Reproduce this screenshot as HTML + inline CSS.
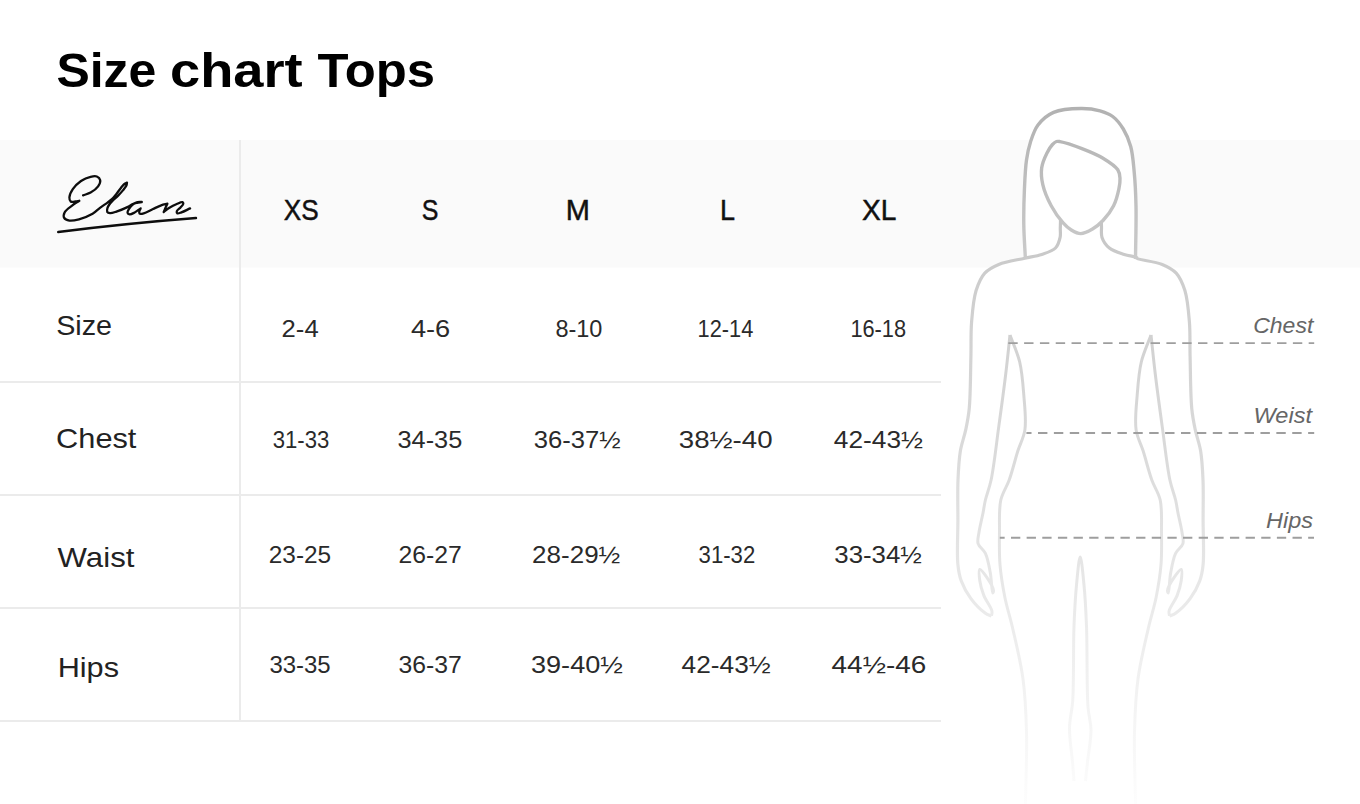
<!DOCTYPE html>
<html><head><meta charset="utf-8">
<style>
html,body{margin:0;padding:0;background:#fff;}
body{width:1360px;height:804px;overflow:hidden;position:relative;}
svg{position:absolute;left:0;top:0;}
text{font-family:"Liberation Sans",sans-serif;}
</style></head><body>
<svg width="1360" height="804" viewBox="0 0 1360 804">
<defs>
<linearGradient id="g" gradientUnits="userSpaceOnUse" x1="0" y1="100" x2="0" y2="804">
<stop offset="0" stop-color="#b0b0b0"/>
<stop offset="0.25" stop-color="#cdcdcd"/>
<stop offset="0.5" stop-color="#dadada"/>
<stop offset="0.75" stop-color="#ececec"/>
<stop offset="0.87" stop-color="#f4f4f4"/>
<stop offset="1" stop-color="#fdfdfd"/>
</linearGradient>
</defs>
<rect x="0" y="0" width="1360" height="804" fill="#fff"/>
<rect x="0" y="140" width="1360" height="127.5" fill="#fafafa"/>
<!-- grid -->
<rect x="239" y="140" width="2" height="582" fill="#ebebeb"/>
<rect x="0" y="381" width="941" height="2" fill="#ebebeb"/>
<rect x="0" y="494" width="941" height="2" fill="#ebebeb"/>
<rect x="0" y="607" width="941" height="2" fill="#ebebeb"/>
<rect x="0" y="720" width="941" height="2" fill="#ebebeb"/>
<!-- logo -->
<g fill="none" stroke="#0d0d0d" stroke-width="2.3" stroke-linecap="round" stroke-linejoin="round">
<path d="M83.10,195.30 C85.60,194.40 88.21,193.96 90.60,192.60 C93.24,191.10 96.50,188.70 98.10,186.40 C99.40,184.52 100.55,182.01 100.20,180.30 C99.89,178.78 98.29,177.12 96.80,176.50 C95.16,175.81 92.84,176.27 90.60,176.80 C87.69,177.48 83.91,179.02 81.00,181.00 C77.94,183.09 74.77,186.26 72.80,189.20 C71.08,191.77 69.50,195.12 69.40,197.40 C69.33,198.99 69.74,200.80 70.70,201.50 C71.71,202.24 74.00,201.64 75.50,201.50 C76.85,201.38 78.03,201.03 79.30,200.80 M79.30,200.80 C76.90,202.40 74.46,203.76 72.10,205.60 C69.55,207.59 65.77,210.01 64.60,212.40 C63.74,214.17 63.44,216.54 64.20,217.90 C64.98,219.30 67.34,220.24 69.40,220.60 C72.05,221.06 75.58,220.21 79.00,219.30 C83.20,218.18 88.88,215.99 92.60,213.80 C95.60,212.03 97.49,209.68 100.00,207.80 C102.46,205.96 105.35,204.18 107.50,202.60 C109.18,201.37 110.49,200.54 111.90,199.20 C113.47,197.70 114.93,195.74 116.40,193.90 C117.93,191.98 119.46,189.66 120.90,187.90 C122.11,186.43 123.24,184.91 124.40,184.00 C125.27,183.31 126.13,183.07 127.00,182.60 M127.00,182.60 C126.80,183.57 126.85,184.46 126.40,185.50 C125.75,186.98 124.22,188.76 122.90,190.40 C121.43,192.22 119.61,194.20 117.90,195.90 C116.27,197.52 114.42,198.84 112.90,200.40 C111.46,201.88 109.95,203.61 109.00,205.00 C108.31,206.01 107.81,206.75 107.50,207.80 C107.16,208.98 106.68,210.91 107.20,211.80 C107.66,212.58 108.85,212.98 110.00,213.10 C111.68,213.27 114.01,212.36 116.40,211.60 C119.61,210.57 124.42,208.56 127.40,207.10 C129.56,206.04 131.04,204.84 132.80,204.00 C134.37,203.25 135.86,202.53 137.40,202.20 C138.86,201.89 140.33,202.07 141.80,202.00 M141.80,202.00 C140.20,202.27 138.50,202.39 137.00,202.80 C135.61,203.18 134.32,203.45 133.10,204.30 C131.61,205.34 129.95,207.45 129.00,209.00 C128.24,210.24 127.24,211.79 127.50,212.70 C127.72,213.45 128.79,214.17 129.70,214.30 C130.92,214.48 132.70,213.51 134.30,212.70 C136.30,211.69 138.50,209.83 140.60,208.40 M140.60,208.40 C140.17,209.33 139.45,210.27 139.30,211.20 C139.17,212.04 139.07,213.27 139.60,213.70 C140.27,214.25 142.10,213.82 143.70,213.40 C146.23,212.74 149.99,210.39 153.00,209.00 C155.81,207.70 158.62,206.21 161.20,205.30 C163.38,204.53 165.33,204.23 167.40,203.70 M167.40,203.70 C166.70,205.17 165.93,206.67 165.30,208.10 C164.71,209.43 164.23,210.70 163.70,212.00 M163.70,212.00 C165.47,210.70 167.01,209.34 169.00,208.10 C171.30,206.66 174.37,205.02 176.80,204.00 C178.78,203.17 181.39,201.82 182.40,202.20 C182.95,202.41 183.33,203.10 183.30,203.70 C183.25,204.67 181.54,206.19 180.50,207.40 C179.39,208.69 177.10,210.02 176.80,211.20 C176.60,211.97 176.86,213.09 177.40,213.40 C178.12,213.82 179.84,212.95 181.40,212.40 C183.78,211.57 187.20,209.73 190.10,208.40"/>
<path d="M58.2,232 Q125,223.5 196,218" stroke-width="2.4"/>
</g>
<text transform="translate(56.38,87.1) scale(1.0198,1)" font-size="49" font-weight="bold" fill="#000">Size</text>
<text transform="translate(169.98,87.1) scale(1.1076,1)" font-size="49" font-weight="bold" fill="#000">chart</text>
<text transform="translate(317.4,87.1) scale(1.0366,1)" font-size="49" font-weight="bold" fill="#000">Tops</text>
<text transform="translate(283.8,219.7) scale(0.9026,1)" font-size="29" stroke="#111" stroke-width="0.45" fill="#111">XS</text>
<text transform="translate(421.64,219.7) scale(0.8611,1)" font-size="29" stroke="#111" stroke-width="0.45" fill="#111">S</text>
<text transform="translate(565.8,219.7) scale(1.0,1)" font-size="29" stroke="#111" stroke-width="0.45" fill="#111">M</text>
<text transform="translate(719.97,219.7) scale(0.9333,1)" font-size="29" stroke="#111" stroke-width="0.45" fill="#111">L</text>
<text transform="translate(862.0,219.7) scale(0.9714,1)" font-size="29" stroke="#111" stroke-width="0.45" fill="#111">XL</text>
<text transform="translate(56.19,335.3) scale(1.0074,1)" font-size="28.5" fill="#222">Size</text>
<text transform="translate(56.12,447.9) scale(1.0784,1)" font-size="28.5" fill="#222">Chest</text>
<text transform="translate(57.6,566.5) scale(1.0944,1)" font-size="28.5" fill="#222">Waist</text>
<text transform="translate(57.67,676.9) scale(1.0759,1)" font-size="28.5" fill="#222">Hips</text>
<text transform="translate(1253.2,333.3) scale(1.0458,1)" font-size="22" font-style="italic" fill="#666">Chest</text>
<text transform="translate(1253.53,423.3) scale(1.0709,1)" font-size="22" font-style="italic" fill="#666">Weist</text>
<text transform="translate(1266.0,527.8) scale(1.0682,1)" font-size="22" font-style="italic" fill="#666">Hips</text>
<text transform="translate(281.6,337.0) scale(1.0686,1)" font-size="24" fill="#2a2a2a">2-4</text>
<text transform="translate(410.9,337.0) scale(1.1353,1)" font-size="24" fill="#2a2a2a">4-6</text>
<text transform="translate(555.4,337.0) scale(0.9792,1)" font-size="24" fill="#2a2a2a">8-10</text>
<text transform="translate(697.59,337.0) scale(0.9083,1)" font-size="24" fill="#2a2a2a">12-14</text>
<text transform="translate(850.39,337.0) scale(0.9083,1)" font-size="24" fill="#2a2a2a">16-18</text>
<text transform="translate(272.7,447.5) scale(0.923,1)" font-size="24" fill="#2a2a2a">31-33</text>
<text transform="translate(397.5,447.5) scale(1.0557,1)" font-size="24" fill="#2a2a2a">34-35</text>
<text transform="translate(533.8,447.5) scale(1.0683,1)" font-size="24" fill="#2a2a2a">36-37½</text>
<text transform="translate(678.8,447.5) scale(1.1519,1)" font-size="24" fill="#2a2a2a">38½-40</text>
<text transform="translate(833.8,447.5) scale(1.0951,1)" font-size="24" fill="#2a2a2a">42-43½</text>
<text transform="translate(268.8,563.0) scale(1.0164,1)" font-size="24" fill="#2a2a2a">23-25</text>
<text transform="translate(398.6,563.0) scale(1.0311,1)" font-size="24" fill="#2a2a2a">26-27</text>
<text transform="translate(532.1,563.0) scale(1.0841,1)" font-size="24" fill="#2a2a2a">28-29½</text>
<text transform="translate(698.6,563.0) scale(0.923,1)" font-size="24" fill="#2a2a2a">31-32</text>
<text transform="translate(834.3,563.0) scale(1.0756,1)" font-size="24" fill="#2a2a2a">33-34½</text>
<text transform="translate(269.4,673.3) scale(0.9984,1)" font-size="24" fill="#2a2a2a">33-35</text>
<text transform="translate(398.6,673.3) scale(1.0311,1)" font-size="24" fill="#2a2a2a">36-37</text>
<text transform="translate(531.0,673.3) scale(1.1293,1)" font-size="24" fill="#2a2a2a">39-40½</text>
<text transform="translate(681.6,673.3) scale(1.0951,1)" font-size="24" fill="#2a2a2a">42-43½</text>
<text transform="translate(831.6,673.3) scale(1.163,1)" font-size="24" fill="#2a2a2a">44½-46</text>
<!-- figure -->
<path d="M1060.60,218.00 C1060.50,221.33 1060.38,224.72 1060.30,228.00 C1060.22,231.18 1060.79,234.24 1060.10,237.40 C1059.33,240.90 1058.19,245.25 1055.50,248.00 C1052.42,251.16 1046.63,252.72 1041.70,254.40 C1036.44,256.19 1031.03,256.76 1024.80,258.20 C1017.06,259.99 1005.94,261.42 998.80,264.40 C993.19,266.74 988.51,269.02 984.80,273.10 C980.76,277.54 973.36,286.59 976.10,290.60 C984.87,303.47 1174.01,282.27 1176.20,273.10 C1176.83,270.47 1167.81,266.74 1162.20,264.40 C1155.06,261.42 1136.58,259.55 1136.20,258.20 C1136.13,257.94 1136.97,257.74 1136.90,257.50 C1136.65,256.61 1128.53,255.85 1124.20,254.40 C1119.39,252.79 1113.18,251.09 1109.40,248.00 C1106.01,245.23 1103.26,241.11 1102.00,237.40 C1100.87,234.07 1101.63,230.43 1101.50,227.00 C1101.37,223.63 1101.30,220.33 1101.20,217.00" fill="#fff" stroke="none"/>
<path d="M1025.40,259.00 C1024.87,247.67 1023.97,236.42 1023.80,225.00 C1023.63,213.42 1023.91,201.21 1024.40,190.00 C1024.85,179.61 1025.24,168.69 1026.50,160.00 C1027.49,153.20 1028.59,147.82 1030.50,142.00 C1032.42,136.15 1034.27,129.87 1038.00,125.00 C1041.87,119.94 1047.22,115.18 1053.60,112.40 C1061.10,109.14 1072.70,108.59 1081.00,108.50 C1087.91,108.43 1094.41,109.24 1100.00,110.80 C1104.77,112.13 1108.94,113.67 1112.70,116.50 C1116.78,119.57 1120.36,124.23 1123.30,129.00 C1126.46,134.13 1128.91,139.99 1130.70,146.50 C1132.78,154.08 1133.33,162.87 1134.20,172.00 C1135.20,182.50 1135.73,193.41 1136.00,206.00 C1136.34,221.71 1135.67,241.33 1135.50,259.00" fill="#fff" stroke="url(#g)" stroke-width="3.4"/>
<path d="M1060.60,218.00 C1060.50,221.33 1060.38,224.72 1060.30,228.00 C1060.22,231.18 1060.79,234.24 1060.10,237.40 C1059.33,240.90 1058.19,245.25 1055.50,248.00 C1052.42,251.16 1046.63,252.72 1041.70,254.40 C1036.44,256.19 1031.03,256.76 1024.80,258.20 C1017.06,259.99 1005.94,261.42 998.80,264.40 C993.19,266.74 988.51,269.02 984.80,273.10 C980.76,277.54 978.24,283.72 976.10,290.60 C973.37,299.35 972.48,311.16 971.60,321.90 C970.68,333.17 971.24,343.92 970.90,356.70 C970.49,372.37 970.54,395.53 969.20,409.00 C968.35,417.57 967.16,422.96 965.70,429.90 C964.23,436.90 961.67,443.19 960.40,450.80 C958.92,459.67 958.44,469.49 958.00,480.00 C957.48,492.28 957.92,506.30 957.90,520.00 C957.88,534.49 956.77,553.57 957.90,564.70 C958.58,571.45 959.24,575.44 961.20,580.80 C963.37,586.75 966.89,593.22 970.90,598.60 C974.94,604.02 981.38,610.39 985.40,613.20 C987.70,614.80 989.47,615.07 991.50,616.00" fill="none" stroke="url(#g)" stroke-width="3.2"/>
<path d="M1101.20,217.00 C1101.30,220.33 1101.37,223.63 1101.50,227.00 C1101.63,230.43 1100.87,234.07 1102.00,237.40 C1103.26,241.11 1106.01,245.23 1109.40,248.00 C1113.18,251.09 1119.39,252.79 1124.20,254.40 C1128.53,255.85 1136.65,256.61 1136.90,257.50 C1136.97,257.74 1136.13,257.94 1136.20,258.20 C1136.58,259.55 1155.06,261.42 1162.20,264.40 C1167.81,266.74 1172.49,269.02 1176.20,273.10 C1180.24,277.54 1182.76,283.72 1184.90,290.60 C1187.63,299.35 1188.52,311.16 1189.40,321.90 C1190.32,333.17 1189.76,343.92 1190.10,356.70 C1190.51,372.37 1190.46,395.53 1191.80,409.00 C1192.65,417.57 1193.84,422.96 1195.30,429.90 C1196.77,436.90 1199.33,443.19 1200.60,450.80 C1202.08,459.67 1202.56,469.49 1203.00,480.00 C1203.52,492.28 1203.08,506.30 1203.10,520.00 C1203.12,534.49 1204.23,553.57 1203.10,564.70 C1202.42,571.45 1201.76,575.44 1199.80,580.80 C1197.63,586.75 1194.11,593.22 1190.10,598.60 C1186.06,604.02 1179.62,610.39 1175.60,613.20 C1173.30,614.80 1171.53,615.07 1169.50,616.00" fill="none" stroke="url(#g)" stroke-width="3.2"/>
<path d="M1056.50,141.50 C1057.64,141.14 1058.36,141.32 1060.00,141.60 C1064.20,142.32 1074.75,145.84 1081.90,148.60 C1089.08,151.37 1096.79,154.42 1103.00,158.20 C1108.60,161.60 1115.16,165.78 1117.80,169.80 C1119.59,172.53 1119.77,175.22 1120.00,178.20 C1120.25,181.51 1119.71,184.90 1118.90,188.80 C1117.86,193.83 1116.22,200.45 1113.60,205.70 C1110.94,211.02 1106.82,216.45 1103.00,220.50 C1099.71,223.99 1096.28,226.80 1092.50,229.00 C1088.86,231.12 1084.50,233.58 1080.80,233.60 C1077.47,233.62 1074.22,231.76 1071.30,230.00 C1068.23,228.15 1065.73,225.78 1062.90,222.60 C1059.06,218.28 1054.50,211.85 1051.20,205.70 C1047.73,199.24 1044.33,191.36 1042.80,184.60 C1041.48,178.76 1040.95,173.07 1041.70,167.70 C1042.43,162.52 1044.94,157.04 1047.00,152.90 C1048.65,149.59 1050.63,146.49 1052.50,144.50 C1053.82,143.10 1055.13,141.93 1056.50,141.50Z" fill="#fff" stroke="url(#g)" stroke-width="3.4"/>
<path d="M1074.00,781.00 C1073.50,774.67 1073.11,769.25 1072.50,762.00 C1071.69,752.30 1069.34,738.67 1069.50,728.00 C1069.64,718.47 1071.94,712.27 1072.70,701.00 C1073.97,682.27 1073.17,647.25 1074.00,626.00 C1074.62,610.28 1075.31,597.35 1076.50,585.00 C1077.49,574.76 1078.95,557.00 1080.20,557.00 C1081.45,557.00 1082.99,574.76 1084.00,585.00 C1085.21,597.35 1085.87,610.02 1086.50,626.00 C1087.39,648.44 1086.61,688.25 1088.00,707.00 C1088.74,717.03 1090.91,721.70 1091.00,730.00 C1091.10,739.78 1088.50,752.71 1087.50,762.00 C1086.73,769.15 1086.17,774.67 1085.50,781.00" fill="none" stroke="url(#g)" stroke-width="3"/>
<path d="M991.50,616.00 C991.63,614.33 992.32,613.05 991.90,611.00 C991.12,607.16 985.84,600.62 983.80,595.40 C981.90,590.55 980.42,585.39 979.80,580.80 C979.27,576.83 978.56,569.97 979.80,569.50 C981.01,569.04 984.84,574.42 987.00,577.60 C989.49,581.27 993.29,587.84 993.50,590.50 C993.59,591.63 992.97,593.03 992.70,593.00 C991.94,592.93 991.53,579.43 990.30,572.80 C989.08,566.23 987.86,558.58 985.40,553.40 C983.47,549.35 979.14,547.19 978.10,543.60 C977.10,540.14 978.39,536.55 979.00,532.30 C979.80,526.70 981.86,518.81 983.00,513.00 C983.93,508.25 984.28,504.77 985.40,500.00 C986.80,494.02 989.32,488.35 991.10,480.00 C993.97,466.52 996.35,444.16 998.80,426.40 C1001.21,408.89 1003.75,390.37 1005.70,374.20 C1007.39,360.21 1008.57,348.07 1010.00,335.00" fill="none" stroke="url(#g)" stroke-width="3"/>
<path d="M1169.50,616.00 C1169.37,614.33 1168.68,613.05 1169.10,611.00 C1169.88,607.16 1175.16,600.62 1177.20,595.40 C1179.10,590.55 1180.58,585.39 1181.20,580.80 C1181.73,576.83 1182.44,569.97 1181.20,569.50 C1179.99,569.04 1176.16,574.42 1174.00,577.60 C1171.51,581.27 1167.71,587.84 1167.50,590.50 C1167.41,591.63 1168.03,593.03 1168.30,593.00 C1169.06,592.93 1169.47,579.43 1170.70,572.80 C1171.92,566.23 1173.14,558.58 1175.60,553.40 C1177.53,549.35 1181.86,547.19 1182.90,543.60 C1183.90,540.14 1182.61,536.55 1182.00,532.30 C1181.20,526.70 1179.14,518.81 1178.00,513.00 C1177.07,508.25 1176.72,504.77 1175.60,500.00 C1174.20,494.02 1171.68,488.35 1169.90,480.00 C1167.03,466.52 1164.65,444.16 1162.20,426.40 C1159.79,408.89 1157.25,390.37 1155.30,374.20 C1153.61,360.21 1152.43,348.07 1151.00,335.00" fill="none" stroke="url(#g)" stroke-width="3"/>
<path d="M1010.00,335.00 C1013.23,344.00 1017.41,352.41 1019.70,362.00 C1022.16,372.32 1022.93,383.83 1023.80,395.00 C1024.69,406.45 1026.37,419.86 1024.90,429.90 C1023.73,437.87 1020.29,443.23 1017.90,450.80 C1015.08,459.70 1012.33,471.26 1009.20,480.00 C1006.56,487.37 1002.50,492.38 1000.80,500.00 C998.74,509.26 999.64,521.27 999.50,532.00 C999.36,542.84 999.12,553.86 1000.00,564.70 C1000.88,575.53 1002.67,586.29 1004.80,597.00 C1006.96,607.82 1010.19,617.34 1012.90,629.30 C1016.25,644.06 1020.73,662.09 1023.00,679.00 C1025.32,696.31 1026.00,712.97 1026.50,732.00 C1027.08,754.15 1025.83,780.00 1025.50,804.00" fill="none" stroke="url(#g)" stroke-width="3"/>
<path d="M1151.00,335.00 C1147.77,344.00 1143.59,352.41 1141.30,362.00 C1138.84,372.32 1138.07,383.83 1137.20,395.00 C1136.31,406.45 1134.63,419.86 1136.10,429.90 C1137.27,437.87 1140.71,443.23 1143.10,450.80 C1145.92,459.70 1148.67,471.26 1151.80,480.00 C1154.44,487.37 1158.50,492.38 1160.20,500.00 C1162.26,509.26 1161.36,521.27 1161.50,532.00 C1161.64,542.84 1161.88,553.86 1161.00,564.70 C1160.12,575.53 1158.33,586.29 1156.20,597.00 C1154.04,607.82 1150.81,617.34 1148.10,629.30 C1144.75,644.06 1140.27,662.09 1138.00,679.00 C1135.68,696.31 1135.00,712.97 1134.50,732.00 C1133.92,754.15 1135.17,780.00 1135.50,804.00" fill="none" stroke="url(#g)" stroke-width="3"/>
<!-- measure lines -->
<g stroke="#9e9e9e" stroke-width="1.9">
<line x1="1008.3" y1="343.1" x2="1314.2" y2="343.1" stroke-dasharray="9.4 6.41"/>
<line x1="1026.4" y1="433" x2="1314.2" y2="433" stroke-dasharray="9.4 6.49" stroke-dashoffset="4.29"/>
<line x1="999.8" y1="537.8" x2="1314" y2="537.8" stroke-dasharray="9.3 6.34" stroke-dashoffset="4.44"/>
</g>
</svg>
</body></html>
